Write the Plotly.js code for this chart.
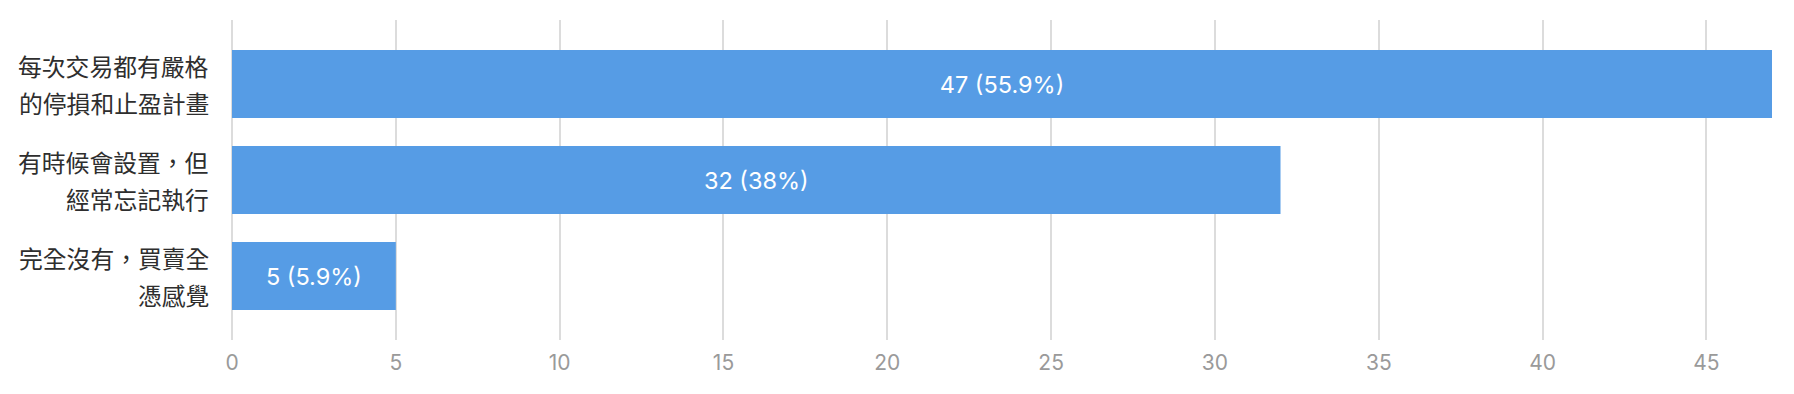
<!DOCTYPE html>
<html>
<head>
<meta charset="utf-8">
<script src="https://cdn.plot.ly/plotly-3.0.1.min.js"></script>
<style>
  html, body { margin: 0; padding: 0; background: #ffffff; }
  #chart { width: 1794px; height: 394px; }
</style>
</head>
<body>
<div id="chart"></div>
<script>
// Category labels (two display lines each)
const labelLine1 = ["每次交易都有嚴格", "有時候會設置，但", "完全沒有，買賣全"];
const labelLine2 = ["的停損和止盈計畫", "經常忘記執行", "憑感覺"];
const categories = labelLine1.map((l, i) => l + labelLine2[i]);

// Series values
const counts = [47, 32, 5];
const percents = ["55.9%", "38%", "5.9%"];

// Axis ticks
const xTickVals = [0, 5, 10, 15, 20, 25, 30, 35, 40, 45];

const barText = counts.map((c, i) => c + " (" + percents[i] + ")");

const trace = {
  type: "bar",
  orientation: "h",
  y: categories,
  x: counts,
  text: barText,
  textposition: "inside",
  insidetextanchor: "middle",
  textangle: 0,
  textfont: { family: "Inter, 'Open Sans', sans-serif", size: 23.5, color: "#ffffff" },
  marker: { color: "#569ce5", line: { width: 0 } },
  hoverinfo: "none",
  cliponaxis: false
};

const labelFont = { family: "'Noto Sans CJK TC', 'Noto Sans CJK SC', sans-serif", size: 23.8, color: "#2e2e2e" };

const annotations = [];
categories.forEach((cat, i) => {
  annotations.push({
    xref: "paper", yref: "y", x: 0, y: cat,
    xanchor: "right", yanchor: "middle",
    xshift: -21, yshift: 18.5,
    text: labelLine1[i], showarrow: false, align: "right",
    font: labelFont
  });
  annotations.push({
    xref: "paper", yref: "y", x: 0, y: cat,
    xanchor: "right", yanchor: "middle",
    xshift: -21, yshift: -18.5,
    text: labelLine2[i], showarrow: false, align: "right",
    font: labelFont
  });
});

const layout = {
  width: 1794,
  height: 394,
  margin: { l: 232, r: 22, t: 20, b: 54, pad: 0 },
  paper_bgcolor: "#ffffff",
  plot_bgcolor: "#ffffff",
  showlegend: false,
  bargap: 0.2917,
  xaxis: {
    range: [0, 47],
    tickvals: xTickVals,
    ticktext: xTickVals.map(String),
    showgrid: true,
    gridcolor: "#dcdcdc",
    gridwidth: 2,
    zeroline: true,
    zerolinecolor: "#dcdcdc",
    zerolinewidth: 2,
    showline: false,
    ticks: "",
    ticklabelstandoff: 8,
    tickfont: { family: "Inter, 'Open Sans', sans-serif", size: 21, color: "#9a9a9a" },
    fixedrange: true
  },
  yaxis: {
    type: "category",
    categoryorder: "array",
    categoryarray: categories,
    range: [2.6667, -0.6667],
    showticklabels: false,
    showgrid: false,
    zeroline: false,
    showline: false,
    ticks: "",
    fixedrange: true
  },
  annotations: annotations
};

Plotly.newPlot("chart", [trace], layout, { displayModeBar: false, staticPlot: true });
</script>
</body>
</html>
